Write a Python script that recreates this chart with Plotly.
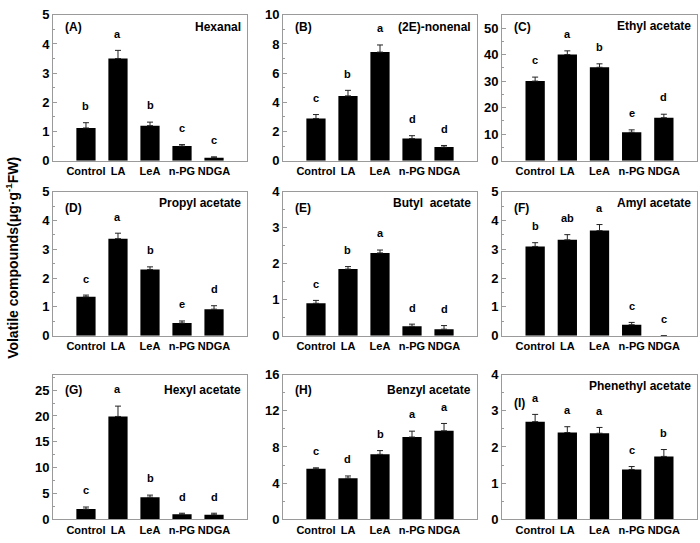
import plotly.graph_objects as go

categories = ["Control", "LA", "LeA", "n-PG", "NDGA"]
panel_tags = ["(A)", "(B)", "(C)", "(D)", "(E)", "(F)", "(G)", "(H)", "(I)"]
compounds = ["Hexanal", "(2E)-nonenal", "Ethyl acetate", "Propyl acetate",
             "Butyl\u00a0 acetate", "Amyl acetate", "Hexyl acetate",
             "Benzyl acetate", "Phenethyl acetate"]

hexanal_mean = [1.12, 3.50, 1.20, 0.50, 0.10]
hexanal_err = [0.18, 0.28, 0.12, 0.05, 0.03]
hexanal_sig = ["b", "a", "b", "c", "c"]

nonenal_mean = [2.89, 4.44, 7.44, 1.51, 0.93]
nonenal_err = [0.27, 0.38, 0.49, 0.20, 0.11]
nonenal_sig = ["c", "b", "a", "d", "d"]

ethyl_mean = [30.0, 40.0, 35.2, 10.7, 16.2]
ethyl_err = [1.5, 1.4, 1.3, 0.9, 1.3]
ethyl_sig = ["c", "a", "b", "e", "d"]

propyl_mean = [1.35, 3.37, 2.30, 0.44, 0.92]
propyl_err = [0.06, 0.19, 0.09, 0.07, 0.12]
propyl_sig = ["c", "a", "b", "e", "d"]

butyl_mean = [0.90, 1.85, 2.30, 0.26, 0.18]
butyl_err = [0.08, 0.07, 0.08, 0.06, 0.10]
butyl_sig = ["c", "b", "a", "d", "d"]

amyl_mean = [3.10, 3.33, 3.65, 0.38, 0.0]
amyl_err = [0.13, 0.18, 0.21, 0.08, 0.0]
amyl_sig = ["b", "ab", "a", "c", "c"]

hexyl_mean = [2.0, 19.9, 4.3, 1.0, 0.9]
hexyl_err = [0.4, 2.0, 0.4, 0.2, 0.3]
hexyl_sig = ["c", "a", "b", "d", "d"]

benzyl_mean = [5.59, 4.56, 7.19, 9.10, 9.79]
benzyl_err = [0.11, 0.24, 0.41, 0.65, 0.81]
benzyl_sig = ["c", "d", "b", "a", "a"]

phenethyl_mean = [2.70, 2.40, 2.38, 1.38, 1.74]
phenethyl_err = [0.20, 0.16, 0.16, 0.08, 0.19]
phenethyl_sig = ["a", "a", "a", "c", "b"]

y_max = [5, 10, 55, 5, 4, 5, 28, 16, 4]
y_step = [1, 2, 10, 1, 1, 1, 5, 4, 1]

means = [hexanal_mean, nonenal_mean, ethyl_mean, propyl_mean, butyl_mean,
         amyl_mean, hexyl_mean, benzyl_mean, phenethyl_mean]
errs = [hexanal_err, nonenal_err, ethyl_err, propyl_err, butyl_err,
        amyl_err, hexyl_err, benzyl_err, phenethyl_err]
sigs = [hexanal_sig, nonenal_sig, ethyl_sig, propyl_sig, butyl_sig,
        amyl_sig, hexyl_sig, benzyl_sig, phenethyl_sig]

W, H = 700, 543
col_px = [(53, 247), (283, 477), (502, 697)]
row_px = [(8, 158), (190, 338), (378, 527)]
tag_shift = [12, 12, 12, 16, 16, 16, 15, 15, 28]
title_shift = [12, 12, 11, 11, 11, 11, 15, 15, 11]

FONT = "Liberation Sans, Arial, sans-serif"
GRAY = "#9a9a9a"

fig = go.Figure()
layout = dict(
    width=W, height=H, margin=dict(l=0, r=0, t=0, b=0),
    paper_bgcolor="white", plot_bgcolor="white", showlegend=False,
    font=dict(family=FONT, color="black"),
)
annotations = []
xpos = list(range(len(categories)))

for i in range(9):
    r, c = divmod(i, 3)
    x0, x1 = col_px[c]
    y0, y1 = row_px[r]
    sfx = "" if i == 0 else str(i + 1)
    xa, ya = "x" + sfx, "y" + sfx
    fig.add_trace(go.Bar(
        x=xpos, y=means[i], width=0.6, marker=dict(color="black", line=dict(width=0)),
        error_y=dict(type="data", symmetric=False, array=errs[i],
                     arrayminus=[0] * 5, color="#222", thickness=1, width=3),
        xaxis=xa, yaxis=ya,
    ))
    layout["xaxis" + sfx] = dict(
        domain=[x0 / W, x1 / W], anchor=ya, range=[-1.03, 5.03],
        tickvals=xpos, ticktext=categories, showline=True, mirror=True,
        linecolor=GRAY, linewidth=1, ticks="", showgrid=False, zeroline=False,
        tickfont=dict(family=FONT, size=11, color="black", weight="bold"),
    )
    layout["yaxis" + sfx] = dict(
        domain=[1 - y1 / H, 1 - y0 / H], anchor=xa, range=[0, y_max[i]],
        dtick=y_step[i], tick0=0, showline=True, mirror=True, linecolor=GRAY,
        linewidth=1, ticks="inside", ticklen=4, tickcolor=GRAY,
        minor=dict(ticks="inside", ticklen=2, tickcolor=GRAY, dtick=y_step[i] / 2),
        showgrid=False, zeroline=False,
        tickfont=dict(family=FONT, size=13, color="black", weight="bold"),
    )
    annotations.append(dict(
        x=(x0 + 10) / W, y=1 - y0 / H, xref="paper", yref="paper",
        xanchor="left", yanchor="middle", yshift=-tag_shift[i], showarrow=False,
        text=panel_tags[i], font=dict(family=FONT, size=12, color="black", weight="bold"),
    ))
    annotations.append(dict(
        x=(x1 - 4) / W, y=1 - y0 / H, xref="paper", yref="paper",
        xanchor="right", yanchor="middle", yshift=-title_shift[i], showarrow=False,
        text=compounds[i], font=dict(family=FONT, size=12, color="black", weight="bold"),
    ))
    for k in range(5):
        annotations.append(dict(
            x=xpos[k], y=means[i][k] + errs[i][k] + 0.115 * y_max[i],
            xref=xa, yref=ya, xanchor="center", yanchor="middle", showarrow=False,
            text=sigs[i][k], font=dict(family=FONT, size=11, color="black", weight="bold"),
        ))

annotations.append(dict(
    x=12 / W, y=1 - 258 / H, xref="paper", yref="paper", textangle=-90,
    xanchor="center", yanchor="middle", showarrow=False,
    text="Volatile compounds(\u03bcg\u00b7g<sup>-1</sup>FW)",
    font=dict(family=FONT, size=14, color="black", weight="bold"),
))
layout["annotations"] = annotations
fig.update_layout(**layout)
fig.write_html(
    "out.html",
    config={"displayModeBar": False},
    post_script="document.body.style.margin='0';document.body.style.padding='0';"
                "document.documentElement.style.overflow='hidden';",
)
